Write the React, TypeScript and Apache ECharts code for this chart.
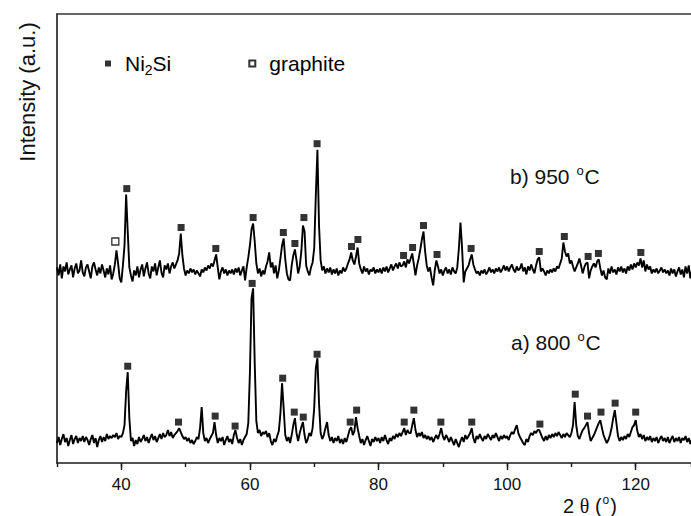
import React, { useEffect, useRef } from "react";
import * as echarts from "echarts";

// 2θ sampling grid of the two patterns
const X_START = 30;
const X_STEP = 0.25;

// b) 950 °C pattern (offset intensity, a.u.), 30.00° → 128.75° every 0.25°
const intensity950: number[] = [
  196, 188, 199, 185, 197, 192, 201, 189, 194, 198, 186, 195, 200, 190, 193, 203, 191, 187, 196, 199,
  192, 185, 197, 201, 194, 188, 196, 190, 199, 193, 186, 195, 189, 198, 184, 190, 199, 213, 200, 185,
  181, 198, 218, 269, 232, 196, 188, 182, 193, 188, 197, 186, 194, 199, 187, 195, 201, 190, 185, 197,
  192, 200, 188, 196, 203, 191, 186, 198, 194, 200, 190, 197, 201, 195, 199, 203, 210, 230, 208, 195,
  188, 193, 190, 195, 191, 194, 189, 193, 190, 187, 194, 191, 196, 193, 198, 195, 200, 197, 203, 209,
  196, 184, 192, 196, 190, 194, 188, 193, 190, 194, 189, 195, 191, 196, 188, 193, 197, 183, 196, 206,
  218, 234, 240, 222, 200, 190, 195, 187, 193, 189, 197, 202, 211, 196, 201, 190, 198, 185, 193, 205,
  218, 225, 204, 190, 184, 183, 198, 208, 214, 203, 190, 197, 212, 238, 232, 198, 192, 188, 196, 201,
  215, 268, 314, 238, 203, 193, 197, 190, 195, 191, 196, 189, 194, 190, 195, 188, 193, 190, 196, 192,
  195, 200, 204, 211, 203, 199, 207, 216, 200, 194, 190, 197, 192, 195, 189, 194, 192, 196, 190, 194,
  191, 195, 190, 196, 192, 197, 191, 195, 199, 193, 197, 200, 195, 201, 197, 198, 202, 196, 204, 200,
  205, 210, 199, 188, 198, 205, 214, 224, 232, 212, 198, 192, 196, 186, 178, 193, 203, 197, 190, 194,
  188, 193, 196, 190, 194, 189, 196, 192, 190, 196, 215, 241, 215, 181, 192, 195, 198, 204, 209, 199,
  194, 190, 192, 188, 193, 190, 194, 189, 192, 196, 191, 194, 190, 195, 192, 196, 191, 194, 198, 193,
  197, 192, 196, 199, 194, 191, 197, 193, 195, 200, 192, 196, 189, 197, 193, 199, 194, 190, 198, 204,
  206, 192, 195, 192, 188, 193, 190, 194, 191, 195, 192, 197, 195, 200, 205, 221, 212, 207, 210, 200,
  203, 197, 192, 196, 200, 205, 198, 190, 196, 200, 201, 185, 193, 197, 200, 196, 202, 204, 195, 188,
  193, 186, 184, 195, 190, 197, 191, 194, 189, 196, 192, 197, 191, 195, 190, 197, 193, 199, 194, 200,
  196, 201, 198, 205, 196, 203, 192, 199, 194, 197, 190, 194, 191, 195, 190, 193, 196, 191, 194, 190,
  193, 188, 195, 190, 194, 187, 192, 196, 189, 194, 186, 197, 190, 198, 185, 193,
];

// a) 800 °C pattern (a.u.), same 2θ grid
const intensity800: number[] = [
  20, 26, 18, 24, 29, 21, 25, 17, 23, 28, 19, 24, 27, 20, 25, 22, 27, 21, 26, 23,
  18, 24, 28, 20, 25, 16, 23, 27, 21, 26, 22, 29, 24, 27, 25, 28, 26, 30, 24, 27,
  26, 30, 38, 72, 91, 45, 22, 25, 17, 23, 19, 26, 21, 24, 28, 22, 26, 20, 25, 29,
  23, 27, 21, 25, 29, 24, 30, 26, 28, 33, 27, 31, 25, 28, 30, 32, 35, 31, 27, 24,
  26, 22, 25, 20, 23, 19, 22, 26, 24, 35, 56, 30, 22, 25, 20, 24, 27, 30, 41, 28,
  20, 25, 22, 26, 18, 23, 27, 21, 24, 19, 28, 33, 25, 20, 24, 18, 23, 26, 29, 40,
  90, 165, 175, 100, 42, 30, 33, 27, 31, 29, 32, 26, 30, 22, 18, 24, 21, 27, 32, 50,
  80, 55, 28, 22, 26, 20, 28, 38, 45, 30, 22, 30, 36, 41, 28, 20, 24, 30, 27, 35,
  55, 95, 105, 60, 30, 24, 28, 35, 41, 28, 22, 26, 20, 25, 22, 27, 20, 24, 19, 25,
  21, 27, 33, 36, 28, 32, 46, 35, 27, 20, 24, 18, 23, 27, 22, 17, 24, 21, 26, 22,
  25, 20, 26, 22, 28, 23, 19, 25, 22, 27, 24, 29, 26, 30, 27, 31, 35, 28, 33, 30,
  30, 38, 45, 33, 26, 30, 27, 31, 25, 28, 24, 27, 23, 26, 21, 25, 28, 24, 29, 35,
  27, 23, 28, 25, 21, 26, 22, 18, 24, 20, 16, 22, 26, 21, 28, 24, 27, 30, 35, 25,
  20, 27, 24, 29, 25, 22, 27, 24, 29, 26, 23, 28, 25, 30, 26, 22, 27, 24, 28, 25,
  27, 23, 28, 31, 29, 34, 38, 30, 26, 23, 20, 18, 24, 21, 27, 30, 28, 32, 30, 33,
  33, 29, 25, 22, 27, 23, 28, 25, 29, 26, 30, 27, 31, 28, 25, 29, 26, 30, 28, 26,
  30, 38, 61, 38, 27, 24, 29, 33, 35, 38, 41, 30, 22, 25, 28, 32, 36, 40, 43, 35,
  28, 24, 20, 23, 28, 35, 45, 53, 40, 27, 22, 26, 23, 27, 24, 29, 26, 31, 36, 38,
  43, 32, 26, 29, 24, 28, 22, 26, 23, 27, 21, 25, 22, 26, 20, 24, 27, 22, 25, 21,
  26, 20, 24, 27, 21, 25, 22, 26, 20, 25, 23, 27, 21, 25, 19, 24,
];

// Ni2Si reflections marked on the 950 °C pattern
const ni2si950X: number[] = [40.85, 49.3, 54.7, 60.5, 65.2, 67.0, 68.4, 70.45, 75.8, 76.8, 83.9, 85.3, 87.0, 89.1, 94.4, 105.0, 108.9, 112.6, 114.2, 120.8];
const ni2si950Y: number[] = [275, 236, 215, 246, 231, 220, 246, 320, 217, 224, 208, 216, 238, 209, 215, 212, 227, 207, 210, 211];

// Ni2Si reflections marked on the 800 °C pattern
const ni2si800X: number[] = [41.0, 48.9, 54.6, 57.7, 60.35, 65.1, 66.9, 68.3, 70.45, 75.6, 76.6, 84.0, 85.5, 89.7, 94.5, 105.1, 110.6, 112.5, 114.6, 116.8, 120.0];
const ni2si800Y: number[] = [97, 41, 47, 37, 180, 85, 51, 46, 109, 41, 53, 41, 53, 41, 41, 39, 69, 47, 51, 60, 51];

// graphite reflection on the 950 °C pattern
const graphiteX: number[] = [39.07];
const graphiteY: number[] = [222];

// x-axis tick labels (major ticks); minor ticks every 10°
const majorTicks: number[] = [40, 60, 80, 100, 120];
const MINOR_INTERVAL = 10;

const X_MIN = 30;
const X_MAX = 128.6;

const FONT = 'Arial, "Liberation Sans", Helvetica, sans-serif';

function toPairs(values: number[]): number[][] {
  return values.map((v, i) => [X_START + i * X_STEP, v]);
}
function zip(xs: number[], ys: number[]): number[][] {
  return xs.map((x, i) => [x, ys[i]]);
}

export default function App() {
  const ref = useRef<HTMLDivElement>(null);

  useEffect(() => {
    if (!ref.current) return;
    const chart = echarts.init(ref.current, undefined, { renderer: "svg" });
    const axisColor = "#1a1a1a";

    chart.setOption({
      animation: false,
      backgroundColor: "#ffffff",
      grid: { left: 57, right: 0, top: 14, bottom: 53, containLabel: false },
      xAxis: [
        {
          type: "value",
          min: X_MIN,
          max: X_MAX,
          interval: MINOR_INTERVAL,
          position: "bottom",
          axisLine: { show: true, onZero: false, lineStyle: { color: axisColor, width: 1.6 } },
          axisTick: { show: true, length: 4, lineStyle: { color: axisColor, width: 1.4 } },
          axisLabel: { show: false },
          splitLine: { show: false },
        },
        {
          type: "value",
          min: X_MIN,
          max: X_MAX,
          position: "bottom",
          axisLine: { show: false, onZero: false },
          axisTick: { show: true, length: 7, customValues: majorTicks, lineStyle: { color: axisColor, width: 1.4 } },
          axisLabel: {
            show: true,
            customValues: majorTicks,
            margin: 13,
            fontSize: 17,
            fontFamily: FONT,
            color: "#111",
          },
          splitLine: { show: false },
        },
        {
          type: "value",
          min: X_MIN,
          max: X_MAX,
          position: "top",
          axisLine: { show: true, onZero: false, lineStyle: { color: "#333", width: 1.6 } },
          axisTick: { show: false },
          axisLabel: { show: false },
          splitLine: { show: false },
        },
      ],
      yAxis: {
        type: "value",
        min: 0,
        max: 450,
        axisLine: { show: true, onZero: false, lineStyle: { color: axisColor, width: 1.6 } },
        axisTick: { show: false },
        axisLabel: { show: false },
        splitLine: { show: false },
      },
      legend: {
        left: 100,
        top: 48,
        orient: "horizontal",
        itemWidth: 6,
        itemHeight: 6,
        itemGap: 77,
        selectedMode: false,
        data: [
          { name: "Ni2Si", icon: "rect" },
          { name: "graphite", icon: "rect" },
        ],
        formatter: (name: string) => (name === "Ni2Si" ? "Ni{sub|2}Si" : name),
        textStyle: {
          fontSize: 21,
          fontFamily: FONT,
          color: "#000",
          padding: [0, 0, 0, 9],
          rich: {
            sub: { fontSize: 14, fontFamily: FONT, color: "#000", padding: [13, 0, 0, 0] },
          },
        },
      },
      series: [
        {
          name: "b) 950 °C",
          type: "line",
          data: toPairs(intensity950),
          showSymbol: false,
          symbol: "none",
          clip: true,
          lineStyle: { color: "#000", width: 1.9 },
          z: 2,
        },
        {
          name: "a) 800 °C",
          type: "line",
          data: toPairs(intensity800),
          showSymbol: false,
          symbol: "none",
          clip: true,
          lineStyle: { color: "#000", width: 1.9 },
          z: 2,
        },
        {
          name: "Ni2Si",
          type: "scatter",
          data: zip(ni2si950X, ni2si950Y).concat(zip(ni2si800X, ni2si800Y)),
          symbol: "rect",
          symbolSize: 7,
          itemStyle: { color: "#000" },
          z: 3,
        },
        {
          name: "graphite",
          type: "scatter",
          data: zip(graphiteX, graphiteY),
          symbol: "rect",
          symbolSize: 7,
          itemStyle: { color: "#fff", borderColor: "#000", borderWidth: 1.3 },
          z: 3,
        },
      ],
      graphic: [
        {
          type: "text",
          x: 27,
          y: 92,
          rotation: Math.PI / 2,
          style: {
            text: "Intensity (a.u.)",
            fontSize: 22,
            fontFamily: FONT,
            fill: "#111",
            align: "center",
            verticalAlign: "middle",
          },
        },
        {
          type: "text",
          x: 510,
          y: 176,
          style: {
            text: "b) 950 {sup|o}C",
            fontSize: 21,
            fontFamily: FONT,
            fill: "#111",
            align: "left",
            verticalAlign: "middle",
            rich: {
              sup: { fontSize: 13, fontFamily: FONT, fill: "#111", padding: [0, 1, 12, 1] },
            },
          },
        },
        {
          type: "text",
          x: 511,
          y: 342,
          style: {
            text: "a) 800 {sup|o}C",
            fontSize: 21,
            fontFamily: FONT,
            fill: "#111",
            align: "left",
            verticalAlign: "middle",
            rich: {
              sup: { fontSize: 13, fontFamily: FONT, fill: "#111", padding: [0, 1, 12, 1] },
            },
          },
        },
        {
          type: "text",
          x: 590,
          y: 506,
          style: {
            text: "2 {th|θ} ({sup|o})",
            fontSize: 20,
            fontFamily: FONT,
            fill: "#111",
            align: "center",
            verticalAlign: "middle",
            rich: {
              th: { fontSize: 20, fontFamily: '"Liberation Serif", "DejaVu Serif", serif', fill: "#111" },
              sup: { fontSize: 12, fontFamily: FONT, fill: "#111", padding: [0, 1, 12, 1] },
            },
          },
        },
      ],
    });

    return () => {
      chart.dispose();
    };
  }, []);

  return (
    <div
      ref={ref}
      style={{ position: "fixed", left: 0, top: 0, width: 691, height: 516, background: "#fff" }}
    />
  );
}
